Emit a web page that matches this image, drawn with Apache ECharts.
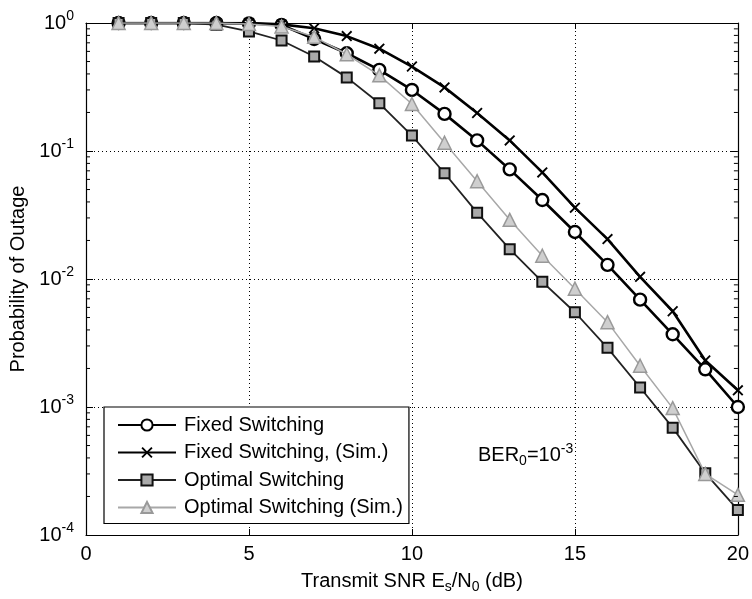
<!DOCTYPE html>
<html>
<head>
<meta charset="utf-8">
<script src="https://cdn.jsdelivr.net/npm/echarts@6/dist/echarts.min.js"></script>
<style>html,body{margin:0;padding:0;background:#fff}#c{width:752px;height:599px}</style>
</head>
<body>
<div id="c"></div>
<script>
const snr = [1,2,3,4,5,6,7,8,9,10,11,12,13,14,15,16,17,18,19,20];
const fixedSwitching = [1,1,1,1,0.99,0.965,0.75,0.58,0.43,0.30,0.195,0.121,0.0718,0.0414,0.0233,0.0129,0.0069,0.0037,0.00197,0.001];
const fixedSwitchingSim = [1,1,1,1,1,0.975,0.91,0.79,0.63,0.457,0.314,0.198,0.121,0.068,0.0361,0.0205,0.0104,0.0056,0.00231,0.00135];
const optimalSwitching = [1,1,1,0.97,0.86,0.73,0.547,0.376,0.236,0.132,0.067,0.033,0.0171,0.0095,0.0055,0.0029,0.00142,0.00069,0.000304,0.000157];
const optimalSwitchingSim = [1,1,1,1,0.98,0.94,0.78,0.57,0.39,0.233,0.116,0.058,0.029,0.0152,0.0084,0.0046,0.0021,0.00098,0.0003,0.000206];
const seriesNames = ['Fixed Switching','Fixed Switching, (Sim.)','Optimal Switching','Optimal Switching (Sim.)'];
const xTicks = [0,5,10,15,20];

const FONT = 'Liberation Sans, Arial, sans-serif';
const FS = 20, SS = 14;
const pairs = arr => snr.map((x,i)=>[x,arr[i]]);
const crossPath = 'path://M0,1.2 L1.2,0 L5,3.8 L8.8,0 L10,1.2 L6.2,5 L10,8.8 L8.8,10 L5,6.2 L1.2,10 L0,8.8 L3.8,5 Z';

const chart = echarts.init(document.getElementById('c'), null, {renderer:'canvas'});
const grid = {left:86, right:13, top:23, bottom:62};
const dotted = {show:true, lineStyle:{color:'#000', width:1, type:[1,3]}};
const option = {
  animation:false,
  backgroundColor:'#fff',
  grid: grid,
  xAxis: [{
    type:'value', min:0, max:20, interval:5,
    axisLine:{show:true, onZero:false, lineStyle:{color:'#000', width:1.2}},
    axisTick:{show:true, inside:true, length:6, lineStyle:{color:'#000'}},
    axisLabel:{color:'#000', fontSize:FS, fontFamily:FONT, margin:9,
      formatter: v => xTicks.includes(v) ? String(v) : ''},
    splitLine: dotted,
    name:'Transmit SNR E{sub|s}/N{sub|0} (dB)', nameLocation:'middle', nameGap:34,
    nameTextStyle:{color:'#000', fontSize:FS, fontFamily:FONT,
      rich:{sub:{fontSize:SS, fontFamily:FONT, color:'#000', padding:[11,0,0,0]}}}
  },{
    type:'value', min:0, max:20, interval:5, position:'top',
    axisLine:{show:true, onZero:false, lineStyle:{color:'#000', width:1.2}},
    axisTick:{show:true, inside:true, length:6, lineStyle:{color:'#000'}},
    axisLabel:{show:false}, splitLine:{show:false}
  }],
  yAxis: [{
    type:'log', logBase:10, min:1e-4, max:1,
    axisLine:{show:true, onZero:false, lineStyle:{color:'#000', width:1.2}},
    axisTick:{show:true, inside:true, length:7, lineStyle:{color:'#000'}},
    axisLabel:{color:'#000', fontSize:FS, fontFamily:FONT, margin:12,
      formatter: v => { const e = Math.round(Math.log10(v)); return '10{sup|' + (e===0?'0':String(e)) + '}'; },
      rich:{sup:{fontSize:SS, fontFamily:FONT, color:'#000', padding:[0,0,14,0]}}},
    splitLine: dotted,
    name:'Probability of Outage', nameLocation:'middle', nameGap:52,
    nameTextStyle:{color:'#000', fontSize:FS, fontFamily:FONT}
  },{
    type:'log', logBase:10, min:1e-4, max:1, position:'right',
    axisLine:{show:true, onZero:false, lineStyle:{color:'#000', width:1.2}},
    axisTick:{show:true, inside:true, length:7, lineStyle:{color:'#000'}},
    axisLabel:{show:false}, splitLine:{show:false}
  }],
  legend: {
    orient:'vertical', left:104, top:407,
    backgroundColor:'#fff', borderColor:'#000', borderWidth:1.2,
    padding:[8,6,6,13], itemWidth:58, itemHeight:14, itemGap:7.5,
    textStyle:{color:'#000', fontSize:FS, fontFamily:FONT, lineHeight:20, padding:[0,0,0,3]},
    data: seriesNames
  },
  series: [
    {name:seriesNames[0], type:'line', data:pairs(fixedSwitching), z:2,
     lineStyle:{color:'#000', width:2.6}, symbol:'circle', symbolSize:12, showAllSymbol:true,
     itemStyle:{color:'#fff', borderColor:'#000', borderWidth:2.4}},
    {name:seriesNames[1], type:'line', data:pairs(fixedSwitchingSim), z:3,
     lineStyle:{color:'#000', width:2.6}, symbol:crossPath, symbolSize:11, showAllSymbol:true,
     itemStyle:{color:'#000', borderColor:'#000', borderWidth:0}},
    {name:seriesNames[2], type:'line', data:pairs(optimalSwitching), z:4,
     lineStyle:{color:'#222', width:1.8}, symbol:'rect', symbolSize:10, showAllSymbol:true,
     itemStyle:{color:'#aaa', borderColor:'#111', borderWidth:2}},
    {name:seriesNames[3], type:'line', data:pairs(optimalSwitchingSim), z:5,
     lineStyle:{color:'#a8a8a8', width:1.5}, symbol:'triangle', symbolSize:13, showAllSymbol:true,
     itemStyle:{color:'#cfcfcf', borderColor:'#999', borderWidth:1.5}}
  ],
  graphic: [{
    type:'text', left:478, top:442, z:10,
    style:{text:'BER{sub|0}=10{sup|-3}', fill:'#000', font:FS + 'px ' + FONT,
      rich:{sub:{fontSize:SS, fontFamily:FONT, fill:'#000', padding:[11,0,0,0]},
            sup:{fontSize:SS, fontFamily:FONT, fill:'#000', padding:[0,0,13,0]}}}
  }]
};
chart.setOption(option);

// minor log ticks on left and right axes
const minor = [];
const xl = chart.convertToPixel({xAxisIndex:0}, 0);
const xr = chart.convertToPixel({xAxisIndex:0}, 20);
for (let d=-4; d<0; d++) {
  for (let m=2; m<=9; m++) {
    const y = chart.convertToPixel({yAxisIndex:0}, m*Math.pow(10,d));
    minor.push({type:'line', shape:{x1:xl, y1:y, x2:xl+4, y2:y}, style:{stroke:'#000', lineWidth:1}, z:20});
    minor.push({type:'line', shape:{x1:xr-4, y1:y, x2:xr, y2:y}, style:{stroke:'#000', lineWidth:1}, z:20});
  }
}
chart.setOption({graphic: option.graphic.concat(minor)});
</script>
</body>
</html>
